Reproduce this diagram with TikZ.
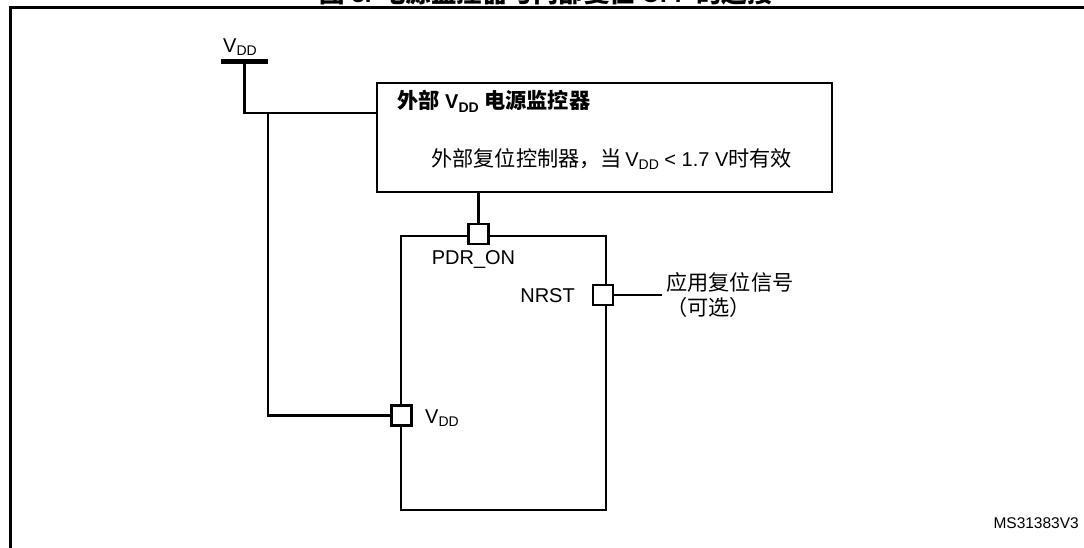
\documentclass[tikz,border=0pt]{standalone}
\usepackage{fontspec}
\setmainfont{Liberation Sans}
\newfontfamily\cjk[Scale=1.06]{Noto Sans CJK SC}
\newcommand\zh[1]{{\cjk #1}}
\newcommand\vddtxt{V\raisebox{-0.35ex}{\fontsize{14}{14}\selectfont DD}}
\begin{document}
\begin{tikzpicture}[x=1pt,y=-1pt,
  wire/.style={line width=2.5pt},
  boxline/.style={draw,line width=2.5pt,inner sep=0pt},
  pin/.style={draw,fill=white,line width=2.5pt,minimum width=20pt,minimum height=20pt,inner sep=0pt},
  lbl/.style={inner sep=0pt,font=\fontsize{20}{23}\selectfont},
  frame/.style={line width=3pt}]
\useasboundingbox (0,0) rectangle (1084,548);
% clipped title
\node[anchor=base,inner sep=0pt,font=\fontsize{24}{26}\selectfont\bfseries] (title) at (546,3) {\zh{图} 5. \zh{电源监控器与内部复位} OFF \zh{的连接}};
% frame
\draw[frame] (10,548) -- (10,8) -- (1084,8);
% supply bar
\node[fill=black,minimum width=47pt,minimum height=5pt,inner sep=0pt] (bar) at (244.5,62) {};
\node[lbl,anchor=center] (vddtop) at (240,47) {\vddtxt};
% supervisor box
\node[boxline,minimum width=455pt,minimum height=109pt] (sup) at (604.5,137.5) {};
\node[lbl,anchor=west,font=\fontsize{20}{23}\selectfont\bfseries] (suptitle) at (397,101) {\zh{外部} \vddtxt\ \zh{电源监控器}};
\node[lbl,anchor=west] (supdesc) at (431,159) {\zh{外部复位控制器，当}\,\vddtxt\ < 1.7 V\zh{时有效}};
% chip
\node[boxline,minimum width=205pt,minimum height=274pt] (chip) at (503.5,373) {};
\node[pin] (pdr) at (478.5,234) {};
\node[pin] (nrst) at (603,295) {};
\node[pin] (vddpin) at (401.5,415.5) {};
\node[lbl] (pdrl) at (473.5,260) {PDR\_ON};
\node[lbl,anchor=east] (nrstl) at (575,296) {NRST};
\node[lbl,anchor=west] (vddl) at (425,418) {\vddtxt};
\node[lbl,anchor=west] (sig1) at (666,282) {\zh{应用复位信号}};
\node[lbl,anchor=west] (sig2) at (666,307) {\zh{（可选）}};
\node[inner sep=0pt,anchor=east,font=\fontsize{15.5}{17}\selectfont] (ms) at (1079,523) {MS31383V3};
% connectors
\coordinate (j1) at (244.5,113);
\coordinate (j2) at (268,113);
\coordinate (j3) at (268,415.5);
\coordinate (sigend) at (662,295);
\draw[wire] (bar.center) -- (j1) -- (j1 -| sup.west);
\draw[wire] (j2) -- (j3) -- (vddpin.west);
\draw[wire] (pdr.north) -- (pdr.north |- sup.south);
\draw[wire] (nrst.east) -- (sigend);
\end{tikzpicture}
\end{document}
